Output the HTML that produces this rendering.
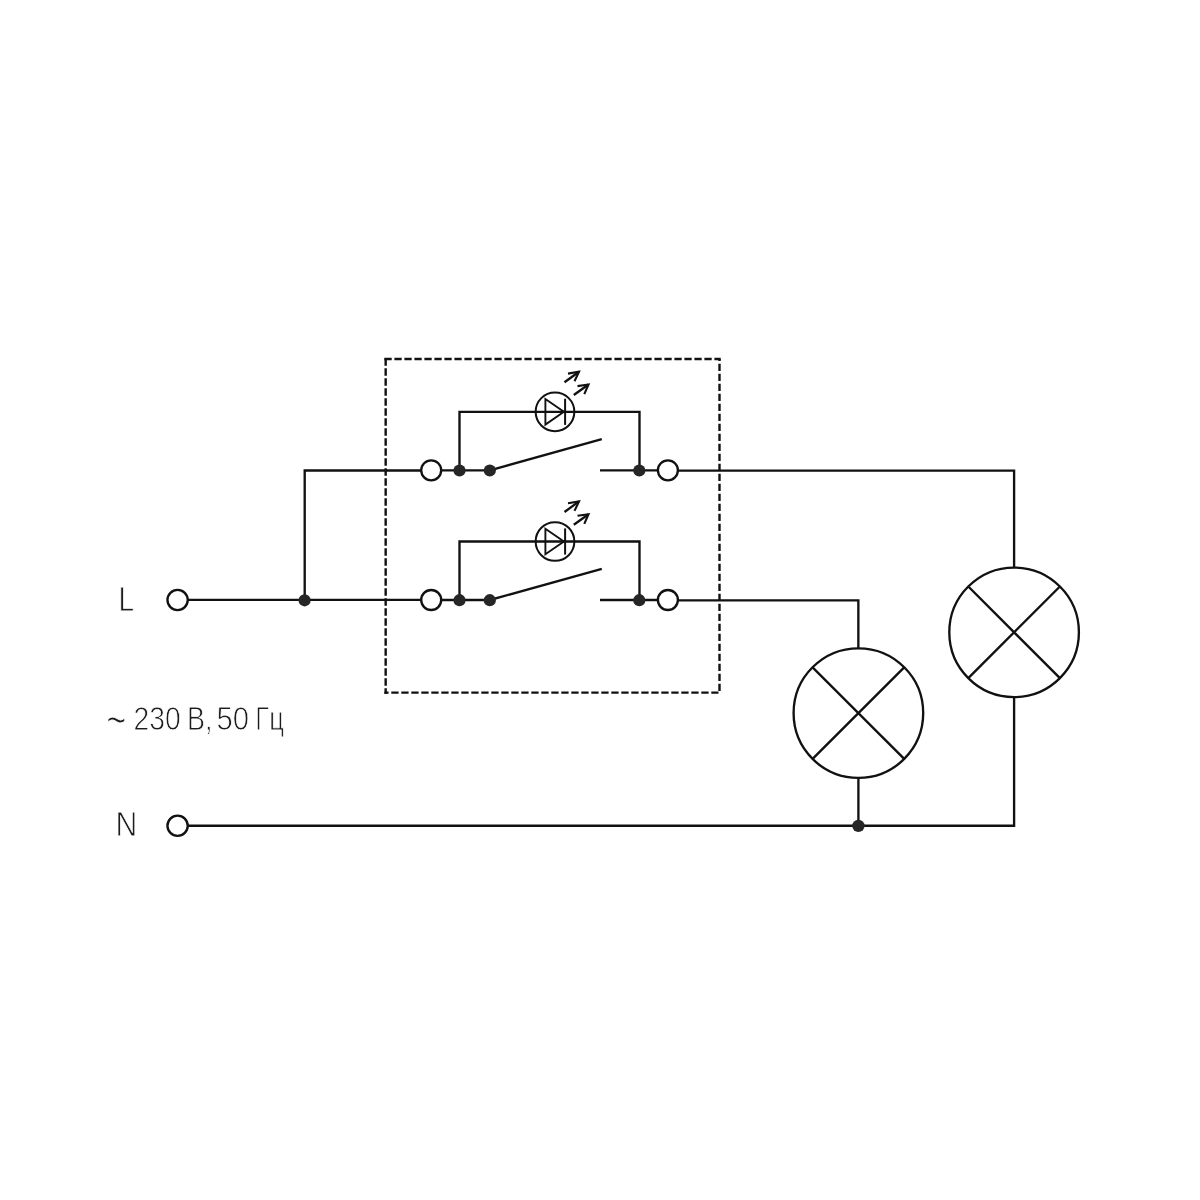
<!DOCTYPE html>
<html lang="ru">
<head>
<meta charset="utf-8">
<title>Схема подключения</title>
<style>
html,body{margin:0;padding:0;background:#fff;}
body{width:1200px;height:1200px;overflow:hidden;position:relative;font-family:"Liberation Sans",sans-serif;}
svg{position:absolute;left:0;top:0;display:block;}
.lbl{filter:grayscale(1);}
text{font-family:"Liberation Sans",sans-serif;fill:#1c1c1c;stroke:#fff;stroke-width:0.85;stroke-linejoin:round;paint-order:fill stroke;}
</style>
</head>
<body>
<svg width="1200" height="1200" viewBox="0 0 1200 1200">
<rect width="1200" height="1200" fill="#fff"/>
<g stroke="#111" stroke-width="2.35" stroke-linecap="butt" fill="none">
<g stroke-width="2.4" fill="none">
<path d="M384.4 359 L720.7 359" stroke-dasharray="7.3 2.7"/>
<path d="M719.5 363.75 L719.5 691" stroke-dasharray="7.3 2.7"/>
<path d="M719.5 359 L719.5 361"/>
<path d="M384.4 692.67 L718.5 692.67" stroke-dasharray="7.3 2.7" stroke-dashoffset="3.1"/>
<path d="M385.67 358.3 L385.67 693.9" stroke-dasharray="7.4 2.6"/>
</g>
<path d="M187 599.85 L421 599.85"/>
<path d="M421 470.5 L304.7 470.5 L304.7 600.0" fill="none" stroke-linejoin="miter"/>
<circle cx="177.6" cy="600.0" r="10.15" fill="#fff"/>
<circle cx="304.6" cy="600.3" r="6.1" fill="#262626" stroke="none"/>
<path d="M459.5 470.3 L459.5 411.8 L639.5 411.8 L639.5 470.3" fill="none" stroke-linejoin="miter"/>
<circle cx="555" cy="411.8" r="19.35" fill="none" stroke-width="2.0"/>
<path d="M545.4 399.0 L545.4 424.6 L563.9 411.8 Z" fill="none" stroke-linejoin="miter" stroke-width="1.9"/>
<path d="M565.1 398.7 L565.1 424.9" stroke-width="2.0"/>
<path d="M564.5 382.3 L579.0 371.7" stroke-width="2.3"/>
<path d="M568.0 373.6 L579.0 371.7 L574.5 381.2" fill="none" stroke-linejoin="miter" stroke-width="2.1"/>
<path d="M573.8 395.0 L588.5 384.5" stroke-width="2.3"/>
<path d="M577.5 386.1 L588.5 384.5 L584.3 394.1" fill="none" stroke-linejoin="miter" stroke-width="2.1"/>
<path d="M441 470.3 L489.8 470.3"/>
<path d="M489.8 470.3 L601.8 439.1"/>
<path d="M600 470.3 L658 470.3"/>
<circle cx="431.2" cy="470.3" r="10.0" fill="#fff"/>
<circle cx="667.9" cy="470.3" r="10.0" fill="#fff"/>
<circle cx="459.5" cy="470.5" r="6.1" fill="#262626" stroke="none"/>
<circle cx="489.8" cy="470.5" r="6.1" fill="#262626" stroke="none"/>
<circle cx="639.3" cy="470.5" r="6.1" fill="#262626" stroke="none"/>
<path d="M459.5 600.0 L459.5 541.5 L639.5 541.5 L639.5 600.0" fill="none" stroke-linejoin="miter"/>
<circle cx="555" cy="541.5" r="19.35" fill="none" stroke-width="2.0"/>
<path d="M545.4 528.7 L545.4 554.3 L563.9 541.5 Z" fill="none" stroke-linejoin="miter" stroke-width="1.9"/>
<path d="M565.1 528.4 L565.1 554.6" stroke-width="2.0"/>
<path d="M564.5 512.0 L579.0 501.4" stroke-width="2.3"/>
<path d="M568.0 503.3 L579.0 501.4 L574.5 510.9" fill="none" stroke-linejoin="miter" stroke-width="2.1"/>
<path d="M573.8 524.7 L588.5 514.2" stroke-width="2.3"/>
<path d="M577.5 515.8 L588.5 514.2 L584.3 523.8" fill="none" stroke-linejoin="miter" stroke-width="2.1"/>
<path d="M441 600.0 L489.8 600.0"/>
<path d="M489.8 600.0 L601.8 568.8"/>
<path d="M600 600.0 L658 600.0"/>
<circle cx="431.2" cy="600.0" r="10.0" fill="#fff"/>
<circle cx="667.9" cy="600.0" r="10.0" fill="#fff"/>
<circle cx="459.5" cy="600.2" r="6.1" fill="#262626" stroke="none"/>
<circle cx="489.8" cy="600.2" r="6.1" fill="#262626" stroke="none"/>
<circle cx="639.3" cy="600.2" r="6.1" fill="#262626" stroke="none"/>
<path d="M677.5 470.6 L1014.1 470.6 L1014.1 567" fill="none" stroke-linejoin="miter"/>
<path d="M677.5 600.3 L858.35 600.3 L858.35 648" fill="none" stroke-linejoin="miter"/>
<circle cx="858.4" cy="713.1" r="64.8" fill="none"/><path d="M812.6 667.3 L904.2 758.9 M812.6 758.9 L904.2 667.3"/>
<circle cx="1014.1" cy="632.35" r="64.8" fill="none"/><path d="M968.3 586.5 L1059.9 678.2 M968.3 678.2 L1059.9 586.5"/>
<path d="M858.4 778 L858.4 825.75"/>
<path d="M187 825.75 L1014.1 825.75 L1014.1 697" fill="none" stroke-linejoin="miter"/>
<circle cx="177.6" cy="825.75" r="10.15" fill="#fff"/>
<circle cx="858.4" cy="825.85" r="6.2" fill="#262626" stroke="none"/>
</g>
<g class="lbl">
<text x="118.4" y="611" font-size="34.5" textLength="15.6" lengthAdjust="spacingAndGlyphs">L</text>
<text x="115.5" y="836" font-size="34.5" textLength="21.8" lengthAdjust="spacingAndGlyphs">N</text>
<text font-size="33.2"><tspan x="106.45" y="735" font-size="44" textLength="19.75" lengthAdjust="spacingAndGlyphs">~</tspan> <tspan x="133.6" y="730" textLength="47.2" lengthAdjust="spacingAndGlyphs">230</tspan> <tspan x="187.1" y="730" textLength="25.45" lengthAdjust="spacingAndGlyphs">В,</tspan> <tspan x="216.55" y="730" textLength="32.6" lengthAdjust="spacingAndGlyphs">50</tspan> <tspan x="255.35" y="730" textLength="28.5" lengthAdjust="spacingAndGlyphs">Гц</tspan></text>
</g>
</svg>
</body>
</html>
